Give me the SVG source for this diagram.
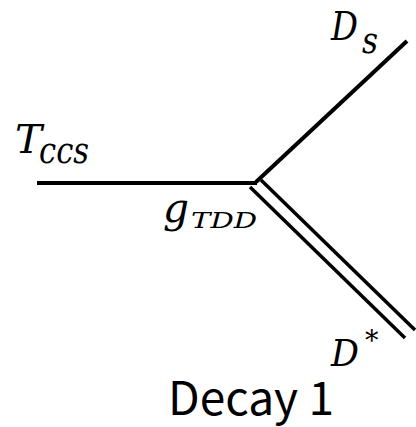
<svg xmlns="http://www.w3.org/2000/svg" width="416" height="427" viewBox="0 0 416 427">
<style>
.ln{stroke:#000;stroke-width:4;fill:none;stroke-linecap:butt}
.dl{stroke:#000;stroke-width:3.5;fill:none}
.m{font-family:"DejaVu Serif","Liberation Serif",serif;font-style:italic;fill:#000}
.cap{font-family:"Noto Sans CJK JP","Noto Sans",sans-serif;fill:#000}
</style>
<rect width="416" height="427" fill="#fff"/>
<g id="connectors">
<line class="ln" x1="37" y1="183" x2="257" y2="183"/>
<line class="ln" x1="256" y1="182" x2="407" y2="41"/>
<line class="dl" x1="250" y1="187" x2="405" y2="338"/>
<line class="dl" x1="261" y1="180" x2="415" y2="330"/>
</g>
<g id="Tccs">
<text class="m" x="15" y="153" font-size="39" textLength="27" lengthAdjust="spacingAndGlyphs">T</text>
<text class="m" x="39" y="163" font-size="35" textLength="50" lengthAdjust="spacingAndGlyphs">ccs</text>
</g>
<g id="Ds">
<text class="m" x="331" y="40" font-size="39" textLength="27" lengthAdjust="spacingAndGlyphs">D</text>
<text class="m" x="362" y="53" font-size="35" textLength="16" lengthAdjust="spacingAndGlyphs">s</text>
</g>
<g id="gTDD">
<text class="m" x="163" y="222" font-size="41" textLength="26" lengthAdjust="spacingAndGlyphs">g</text>
<text class="m" x="191" y="228" font-size="23" textLength="66" lengthAdjust="spacingAndGlyphs">TDD</text>
</g>
<g id="Dstar">
<text class="m" x="331" y="366" font-size="37" textLength="28" lengthAdjust="spacingAndGlyphs">D</text>
<text class="m" x="365" y="350" font-size="27">*</text>
</g>
<g id="caption">
<text class="cap" x="168" y="415" font-size="46" textLength="166" lengthAdjust="spacingAndGlyphs">Decay 1</text>
</g>
</svg>
